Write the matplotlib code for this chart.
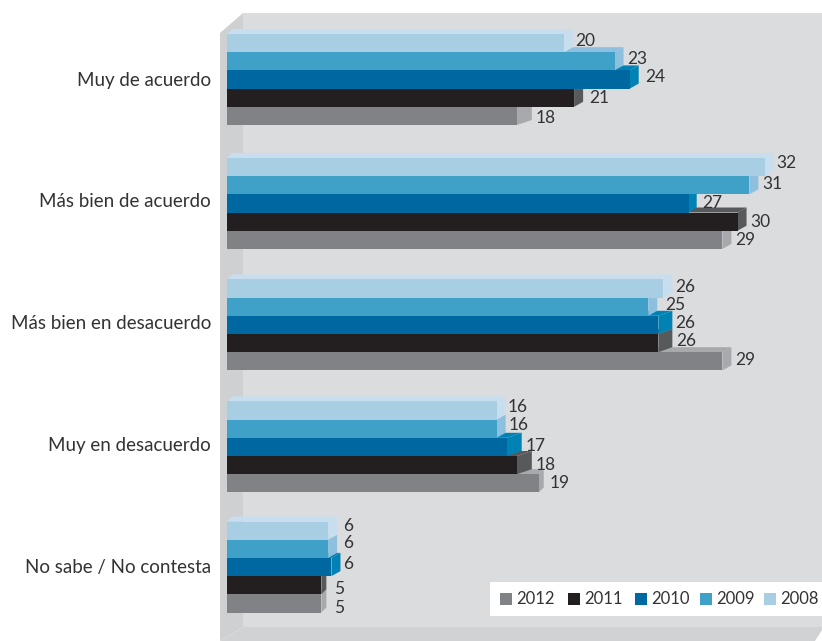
import matplotlib
matplotlib.use("Agg")
import matplotlib.pyplot as plt
from matplotlib.patches import Polygon, Rectangle
from matplotlib.transforms import Affine2D, ScaledTranslation

categories = ["Muy de acuerdo", "Más bien de acuerdo", "Más bien en desacuerdo",
              "Muy en desacuerdo", "No sabe / No contesta"]
years = ["2008", "2009", "2010", "2011", "2012"]
legend_years = ["2012", "2011", "2010", "2009", "2008"]

# bar lengths as drawn (they do not quite follow the printed numbers)
bars_2008 = [20.0, 31.9, 25.9, 16.0, 6.0]
bars_2009 = [23.0, 31.0, 25.0, 16.0, 6.0]
bars_2010 = [23.9, 27.4, 25.6, 16.6, 6.2]
bars_2011 = [20.6, 30.3, 25.6, 17.2, 5.6]
bars_2012 = [17.2, 29.4, 29.4, 18.5, 5.6]

# printed numbers
labels_2008 = [20, 32, 26, 16, 6]
labels_2009 = [23, 31, 25, 16, 6]
labels_2010 = [24, 27, 26, 17, 6]
labels_2011 = [21, 30, 26, 18, 5]
labels_2012 = [18, 29, 29, 19, 5]

bars = [bars_2008, bars_2009, bars_2010, bars_2011, bars_2012]
labels = [labels_2008, labels_2009, labels_2010, labels_2011, labels_2012]

front = ["#A8CEE3", "#3FA0C8", "#0068A1", "#231F20", "#808285"]
side = ["#C8DEEE", "#8CC0DE", "#0083B4", "#58595B", "#A7A9AC"]
legend_colors = ["#808285", "#231F20", "#0068A1", "#3FA0C8", "#A8CEE3"]
text_color = "#333335"

# side depth in pixels, one row per year
depth = [[9, 9, 9, 9, 9],
         [9, 9, 9, 9, 9],
         [9, 8, 14, 15, 9],
         [9, 9, 14, 15, 5],
         [15, 9, 9, 5, 5]]
# label offsets from the bar end in pixels
label_dx = [[11, 12, 12, 11, 15],
            [13, 13, 17, 12, 15],
            [16, 14, 17, 19, 12],
            [15, 13, 18, 19, 13],
            [19, 13, 13, 11, 13]]
label_dy = [[2, 4, 2, 4, 5],
            [2, 1, 2, 4, 6],
            [2, 0, 2, 1, 3],
            [0, 0, 2, 0, -4],
            [-2, 0, 1, 0, -5]]
# groups are not evenly spaced in the original, nudge in pixels
group_nudge = [0, 2, 1.6, 1.7, -0.1]

plt.rcParams["font.family"] = ["Lato", "DejaVu Sans"]

W, H = 822, 641
px_per_unit = 16.85
px_per_group = 121.9
first_group_px = 79.5
zero_px = 227
row_h = 18.2 / px_per_group
top_face_px = 5

fig = plt.figure(figsize=(W / 100, H / 100), dpi=100, facecolor="white")
px = Affine2D().scale(1, -1).translate(0, H)

# 3D box behind the chart
fig.add_artist(Polygon([(243, 13), (822, 13), (822, 627), (243, 627)],
                       facecolor="#DBDCDE", edgecolor="none", transform=px, zorder=-3))
fig.add_artist(Polygon([(220, 33), (243, 13), (243, 627), (220, 641)],
                       facecolor="#CFD0D2", edgecolor="none", transform=px, zorder=-2))
fig.add_artist(Polygon([(243, 627), (822, 627), (822, 630), (815, 641), (220, 641)],
                       facecolor="#D1D2D4", edgecolor="none", transform=px, zorder=-2))

ax = fig.add_axes([zero_px / W, 0, 1 - zero_px / W, 1])
ax.patch.set_visible(False)
ax.set_xlim(0, (W - zero_px) / px_per_unit)
ax.set_ylim((H - first_group_px) / px_per_group, -first_group_px / px_per_group)
for s in ax.spines.values():
    s.set_visible(False)
ax.set_xticks([])
ax.set_yticks(range(len(categories)))
ax.set_yticklabels(categories, fontsize=13.5, color=text_color)
ax.tick_params(axis="y", length=0, pad=11.5)
shift = ScaledTranslation(0, 0.7 / 72, fig.dpi_scale_trans)
for lab in ax.get_yticklabels():
    lab.set_transform(lab.get_transform() + shift)

# lower rows first so the rows above cover their top faces
z = 2
for g in range(len(categories)):
    for i in reversed(range(len(years))):
        y = g + group_nudge[g] / px_per_group + (i - 2) * row_h
        v = bars[i][g]
        top = y - row_h / 2
        bottom = y + row_h / 2
        dx = depth[i][g] / px_per_unit
        dy = top_face_px / px_per_group
        ax.fill([0, v, v + dx, dx * 0.6], [top, top, top - dy, top - dy],
                color=side[i], lw=0, zorder=z, clip_on=False)
        ax.fill([v, v + dx, v + dx, v], [top, top - dy, bottom - dy, bottom],
                color=side[i], lw=0, zorder=z, clip_on=False)
        ax.barh(y, v, height=row_h, color=front[i], lw=0, zorder=z + 0.5)
        z += 1
        ax.annotate(str(labels[i][g]), (v, y),
                    xytext=(label_dx[i][g], label_dy[i][g]),
                    textcoords="offset pixels", ha="left", va="center",
                    fontsize=12.5, color=text_color, zorder=100)

# legend, spaced unevenly as in the original
fig.add_artist(Rectangle((490, 582), 332, 34, facecolor="white", edgecolor="none",
                         transform=px, zorder=3))
swatch_x = [500, 568, 635, 700, 764]
for year, color, x in zip(legend_years, legend_colors, swatch_x):
    fig.add_artist(Rectangle((x, 593), 12, 12, facecolor=color, edgecolor="none",
                             transform=px, zorder=4))
    fig.text((x + 16) / W, 1 - 599 / H, year, fontsize=12, color=text_color,
             ha="left", va="center", zorder=4)

fig.savefig("out.png", dpi=100)
